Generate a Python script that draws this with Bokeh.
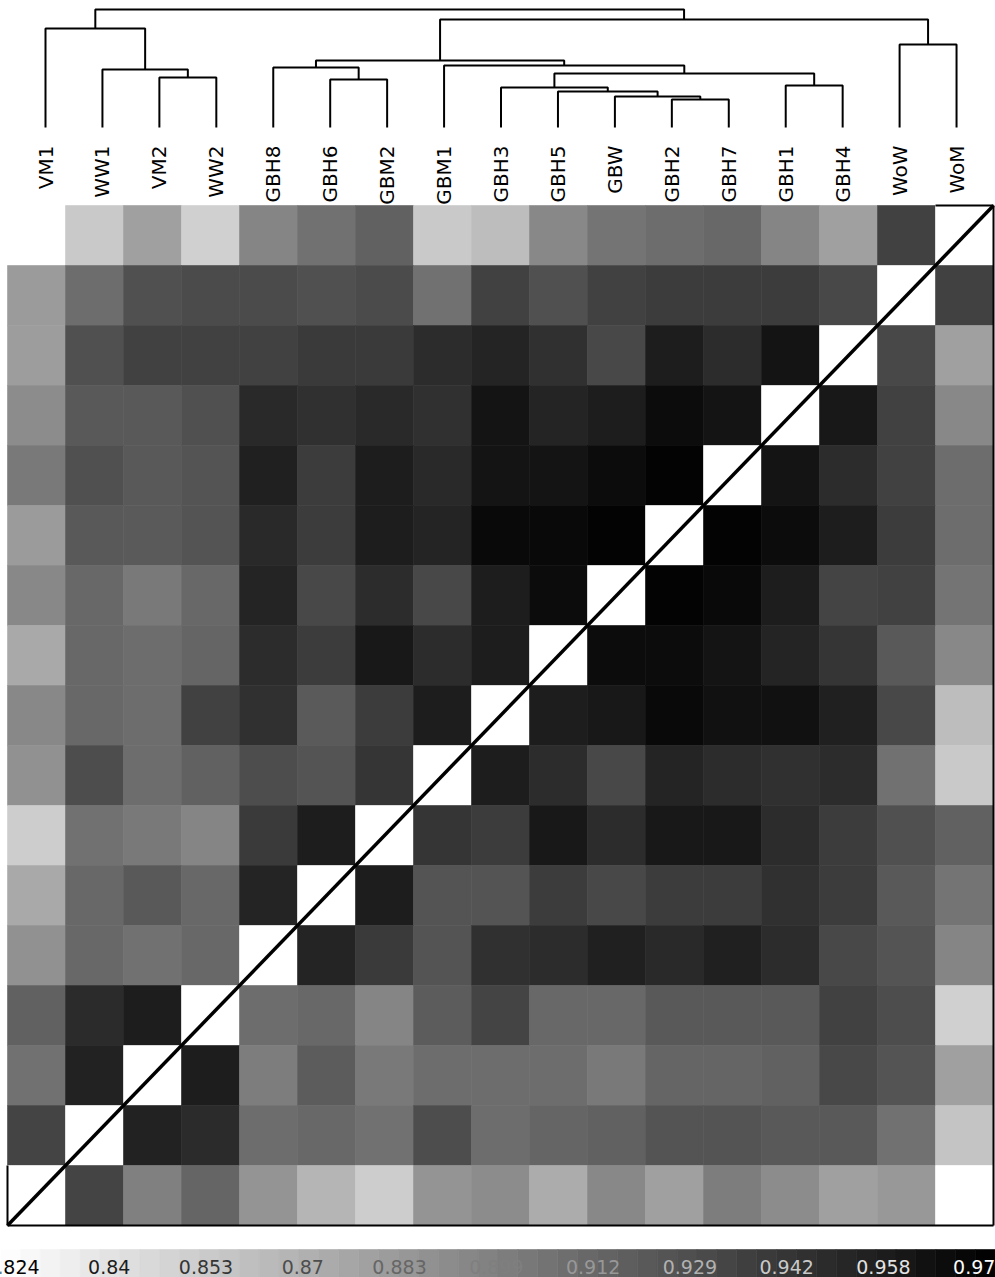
import math
import numpy as np
from bokeh.plotting import figure
from bokeh.models import Range1d, ColumnDataSource, LinearColorMapper
from bokeh.transform import transform
from bokeh.core.properties import value
from bokeh.embed import file_html
from bokeh.resources import INLINE

# ---------------- data ----------------
labels = ["VM1", "WW1", "VM2", "WW2", "GBH8", "GBH6", "GBM2", "GBM1", "GBH3",
          "GBH5", "GBW", "GBH2", "GBH7", "GBH1", "GBH4", "WoW", "WoM"]
nan = float("nan")

# similarity rows, listed top to bottom; each row gives columns VM1 ... WoM
row_WoM  = [0.822, 0.854, 0.878, 0.850, 0.894, 0.906, 0.915, 0.854, 0.861, 0.892, 0.904, 0.908, 0.911, 0.894, 0.878, 0.934, nan]
row_WoW  = [0.881, 0.908, 0.925, 0.928, 0.928, 0.925, 0.928, 0.906, 0.934, 0.925, 0.934, 0.937, 0.937, 0.937, 0.930, nan, 0.934]
row_GBH4 = [0.880, 0.925, 0.934, 0.934, 0.934, 0.938, 0.938, 0.946, 0.951, 0.944, 0.930, 0.955, 0.946, 0.960, nan, 0.930, 0.878]
row_GBH1 = [0.890, 0.920, 0.920, 0.925, 0.948, 0.944, 0.948, 0.944, 0.960, 0.951, 0.955, 0.965, 0.960, nan, 0.958, 0.934, 0.892]
row_GBH7 = [0.901, 0.925, 0.920, 0.923, 0.953, 0.937, 0.955, 0.948, 0.960, 0.960, 0.965, 0.970, nan, 0.960, 0.946, 0.934, 0.908]
row_GBH2 = [0.881, 0.920, 0.919, 0.923, 0.948, 0.937, 0.955, 0.951, 0.967, 0.967, 0.970, nan, 0.970, 0.965, 0.955, 0.937, 0.908]
row_GBW  = [0.892, 0.911, 0.901, 0.911, 0.951, 0.930, 0.946, 0.930, 0.955, 0.965, nan, 0.970, 0.967, 0.955, 0.932, 0.934, 0.904]
row_GBH5 = [0.873, 0.911, 0.908, 0.913, 0.946, 0.937, 0.958, 0.946, 0.955, nan, 0.965, 0.965, 0.960, 0.951, 0.941, 0.920, 0.892]
row_GBH3 = [0.892, 0.911, 0.908, 0.934, 0.944, 0.919, 0.937, 0.955, nan, 0.955, 0.958, 0.967, 0.962, 0.962, 0.953, 0.930, 0.861]
row_GBM1 = [0.887, 0.927, 0.908, 0.915, 0.927, 0.923, 0.941, nan, 0.955, 0.946, 0.930, 0.951, 0.946, 0.944, 0.946, 0.906, 0.854]
row_GBM2 = [0.852, 0.906, 0.901, 0.894, 0.938, 0.955, nan, 0.941, 0.937, 0.958, 0.946, 0.958, 0.958, 0.946, 0.937, 0.925, 0.915]
row_GBH6 = [0.873, 0.911, 0.920, 0.911, 0.951, nan, 0.955, 0.923, 0.923, 0.937, 0.930, 0.937, 0.937, 0.944, 0.937, 0.920, 0.904]
row_GBH8 = [0.887, 0.911, 0.906, 0.911, nan, 0.951, 0.938, 0.923, 0.944, 0.946, 0.953, 0.948, 0.953, 0.946, 0.930, 0.923, 0.894]
row_WW2  = [0.915, 0.947, 0.955, nan, 0.908, 0.911, 0.894, 0.918, 0.932, 0.911, 0.911, 0.920, 0.920, 0.920, 0.934, 0.927, 0.850]
row_VM2  = [0.906, 0.952, nan, 0.955, 0.899, 0.918, 0.901, 0.908, 0.908, 0.908, 0.901, 0.913, 0.913, 0.915, 0.930, 0.923, 0.878]
row_WW1  = [0.932, nan, 0.952, 0.947, 0.908, 0.911, 0.906, 0.927, 0.908, 0.913, 0.915, 0.923, 0.923, 0.920, 0.920, 0.906, 0.857]
row_VM1  = [nan, 0.932, 0.897, 0.913, 0.885, 0.866, 0.852, 0.885, 0.890, 0.871, 0.892, 0.878, 0.899, 0.890, 0.878, 0.883, 0.822]

heat_rows = [row_WoM, row_WoW, row_GBH4, row_GBH1, row_GBH7, row_GBH2, row_GBW,
             row_GBH5, row_GBH3, row_GBM1, row_GBM2, row_GBH6, row_GBH8, row_WW2,
             row_VM2, row_WW1, row_VM1]

# dendrogram merges: (left, right, height); "mK" refers to the K-th merge
dend_merges = [
    ("VM2", "WW2", 50), ("WW1", "m0", 58), ("VM1", "m1", 99),
    ("GBH6", "GBM2", 48), ("GBH8", "m3", 60),
    ("GBH2", "GBH7", 28), ("GBW", "m5", 31), ("GBH5", "m6", 36), ("GBH3", "m7", 40),
    ("GBH1", "GBH4", 42), ("m8", "m9", 54), ("GBM1", "m10", 62), ("m4", "m11", 67),
    ("WoW", "WoM", 83), ("m12", "m13", 108), ("m2", "m14", 118),
]

cbar_low, cbar_high = 0.8222, 0.9723
cbar_tick_labels = ["0.824", "0.84", "0.853", "0.87", "0.883", "0.899",
                    "0.912", "0.929", "0.942", "0.958", "0.970"]
cbar_first, cbar_last = 0.824, 0.970
cbar_steps = 50

# ---------------- figure ----------------
n = len(labels)
W, H = 995, 1277
cell_w, cell_h = 58.0, 60.0
mx0, my_bottom = 7.0, 1225.0
x0 = -mx0 / cell_w
y0 = -(H - my_bottom) / cell_h

p = figure(width=W, height=H, output_backend="svg", toolbar_location=None,
           x_range=Range1d(x0, x0 + W / cell_w), y_range=Range1d(y0, y0 + H / cell_h),
           x_axis_location=None, y_axis_location=None, min_border=0,
           outline_line_color=None, background_fill_color="white",
           border_fill_color="white")
p.grid.visible = False

leaf_px0, leaf_step, leaf_base_px = 45.0, 56.94, 127.0
p.extra_x_ranges = {
    "dend": Range1d(-leaf_px0 / leaf_step, -leaf_px0 / leaf_step + W / leaf_step),
    "cbar": Range1d(cbar_low, cbar_high),
}
p.extra_y_ranges = {"dend": Range1d(leaf_base_px - H, leaf_base_px)}

palette = ["#%02x%02x%02x" % (255 - i, 255 - i, 255 - i) for i in range(256)]
mapper = LinearColorMapper(palette=palette, low=cbar_low, high=cbar_high, nan_color="white")

# heatmap
xs, ys, vals = [], [], []
for r, row in enumerate(heat_rows):
    for c, v in enumerate(row):
        xs.append(c + 0.5)
        ys.append(n - 1 - r + 0.5)
        vals.append(v)
hsrc = ColumnDataSource(dict(x=xs, y=ys, v=vals))
p.rect(x="x", y="y", width=1, height=1, source=hsrc,
       fill_color=transform("v", mapper), line_color=transform("v", mapper),
       line_width=0.6)

# frame pieces and diagonal
p.line([0, n], [0, 0], line_color="black", line_width=2)
p.line([n, n], [0, n], line_color="black", line_width=2)
p.line([0, 0], [0, 1], line_color="black", line_width=2)
p.line([n - 1, n], [n, n], line_color="black", line_width=2)
p.line([0, n], [0, n], line_color="black", line_width=3.5)

# dendrogram
pos = {name: (float(i), 0.0) for i, name in enumerate(labels)}
dxs, dys = [], []
for k, (a, b, h) in enumerate(dend_merges):
    xa, ha = pos[a]
    xb, hb = pos[b]
    dxs.append([xa, xa, xb, xb])
    dys.append([ha, h, h, hb])
    pos["m%d" % k] = ((xa + xb) / 2.0, float(h))
p.multi_line(xs=dxs, ys=dys, line_color="black", line_width=2,
             x_range_name="dend", y_range_name="dend")

# leaf labels
lsrc = ColumnDataSource(dict(x=list(range(n)), y=[-18] * n, t=labels))
p.text(x="x", y="y", text="t", source=lsrc, angle=math.pi / 2,
       text_align="right", text_baseline="middle",
       text_font=value("DejaVu Sans"), text_font_size="20px", text_color="black",
       x_range_name="dend", y_range_name="dend")

# colour bar
edges = np.linspace(cbar_low, cbar_high, cbar_steps + 1)
csrc = ColumnDataSource(dict(left=edges[:-1], right=edges[1:],
                             v=(edges[:-1] + edges[1:]) / 2))
cb_top = -(1249 - my_bottom) / cell_h
p.quad(left="left", right="right", bottom=y0, top=cb_top, source=csrc,
       fill_color=transform("v", mapper), line_color=transform("v", mapper),
       line_width=0.6, x_range_name="cbar")

tick_pos = np.linspace(cbar_first, cbar_last, len(cbar_tick_labels))
tcols = []
for tv in tick_pos:
    idx = int(round((tv - cbar_low) / (cbar_high - cbar_low) * 255))
    idx = max(0, min(255, idx))
    tcols.append("#%02x%02x%02x" % (idx, idx, idx))
tsrc = ColumnDataSource(dict(x=list(tick_pos), y=[-(1266 - my_bottom) / cell_h] * len(tick_pos),
                             t=cbar_tick_labels, c=tcols))
p.text(x="x", y="y", text="t", source=tsrc, text_color="c",
       text_align="center", text_baseline="middle",
       text_font=value("DejaVu Sans"), text_font_size="19px", x_range_name="cbar")

open("out.html", "w").write(file_html(p, INLINE))
